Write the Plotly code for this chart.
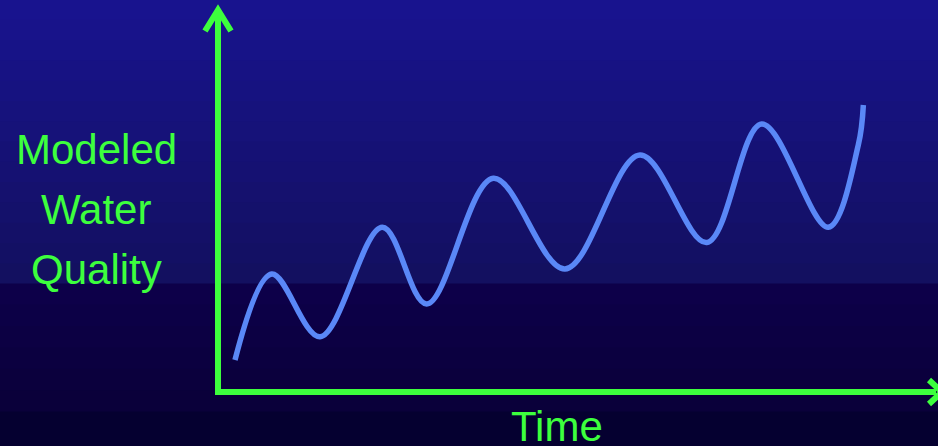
import plotly.graph_objects as go

# Data (arbitrary units, 0-100 on both axes):
# start, successive peaks and troughs, and the end of the curve
time = [2.36, 7.46, 14.17, 22.82, 28.99, 38.24, 48.19, 58.61, 67.88, 75.51, 84.76, 88.93, 89.63]
quality = [8.38, 30.89, 14.48, 43.12, 23.04, 55.94, 32.20, 62.04, 39.14, 70.16, 43.12, 64.66, 75.13]
y_label_lines = ["Modeled", "Water", "Quality"]
x_label = "Time"

W, H = 938, 446
L, R, T, B = 218, 0, 10, 54
PW, PH = W - L - R, H - T - B

def px(x):
    return (x - L) / PW

def py(y):
    return (H - B - y) / PH

GREEN = "#3dff3d"
LINE = "#5a88f7"

shapes = []

# background gradient bands
def hexmix(c1, c2, t):
    a = [int(c1[i:i + 2], 16) for i in (1, 3, 5)]
    b = [int(c2[i:i + 2], 16) for i in (1, 3, 5)]
    return "#%02x%02x%02x" % tuple(round(a[k] + (b[k] - a[k]) * t) for k in range(3))

bands = []
n1 = 14
for i in range(n1):
    y0 = i * 284 / n1
    y1 = (i + 1) * 284 / n1
    bands.append((y0, y1, hexmix("#18138e", "#131060", i / (n1 - 1))))
n2 = 6
for i in range(n2):
    y0 = 284 + i * (412 - 284) / n2
    y1 = 284 + (i + 1) * (412 - 284) / n2
    bands.append((y0, y1, hexmix("#0d0049", "#0a003a", i / (n2 - 1))))
bands.append((412, 446, "#050030"))
for y0, y1, c in bands:
    shapes.append(dict(type="rect", xref="paper", yref="paper", layer="below",
                       x0=px(0), x1=px(W), y0=py(y1 + 0.5), y1=py(y0 - 0.5),
                       fillcolor=c, line=dict(width=0)))

# axes lines
ax_x, ax_y = 218, 392
shapes.append(dict(type="line", xref="paper", yref="paper", x0=px(ax_x - 3), x1=px(936),
                   y0=py(ax_y), y1=py(ax_y), line=dict(color=GREEN, width=6)))
shapes.append(dict(type="line", xref="paper", yref="paper", x0=px(ax_x), x1=px(ax_x),
                   y0=py(ax_y + 3), y1=py(12), line=dict(color=GREEN, width=6)))
# arrowheads (chevrons)
shapes.append(dict(type="path", xref="paper", yref="paper",
                   path="M %f,%f L %f,%f L %f,%f" % (px(205), py(31), px(ax_x), py(10), px(231), py(31)),
                   line=dict(color=GREEN, width=6)))
shapes.append(dict(type="path", xref="paper", yref="paper",
                   path="M %f,%f L %f,%f L %f,%f" % (px(929), py(380), px(942), py(ax_y), px(929), py(404)),
                   line=dict(color=GREEN, width=6)))

fig = go.Figure()
fig.add_trace(go.Scatter(x=time, y=quality, mode="lines",
                         line=dict(color=LINE, width=5.5, shape="spline", smoothing=1.0,
                                   simplify=False),
                         hoverinfo="skip", cliponaxis=False))

annotations = []
for text, cy in zip(y_label_lines, [149, 209, 269]):
    annotations.append(dict(text=text, xref="paper", yref="paper", x=px(96), y=py(cy),
                            xanchor="center", yanchor="middle", showarrow=False,
                            font=dict(family="Liberation Sans, Arial", size=42, color=GREEN)))
annotations.append(dict(text=x_label, xref="paper", yref="paper", x=px(557), y=py(427),
                        xanchor="center", yanchor="middle", showarrow=False,
                        font=dict(family="Liberation Sans, Arial", size=42, color=GREEN)))

fig.update_layout(
    width=W, height=H,
    margin=dict(l=L, r=R, t=T, b=B, pad=0),
    paper_bgcolor="#0a003a", plot_bgcolor="rgba(0,0,0,0)",
    showlegend=False,
    xaxis=dict(range=[0, 100], visible=False, fixedrange=True),
    yaxis=dict(range=[0, 100], visible=False, fixedrange=True),
    shapes=shapes, annotations=annotations,
)

fig.write_html("out.html", config={"displayModeBar": False},
               post_script="document.body.style.margin='0';document.body.style.overflow='hidden';")
